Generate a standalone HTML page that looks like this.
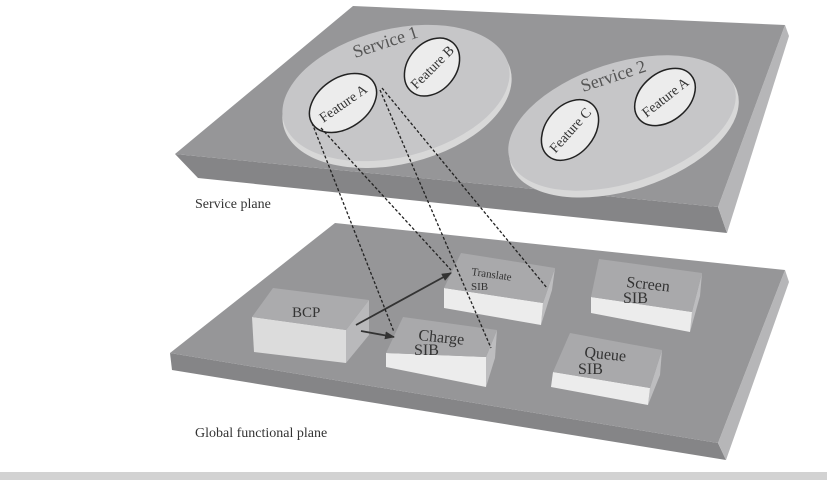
<!DOCTYPE html>
<html><head><meta charset="utf-8"><style>html,body{margin:0;padding:0;background:#fff}svg{display:block}</style></head>
<body>
<svg width="827" height="482" viewBox="0 0 827 482" xmlns="http://www.w3.org/2000/svg" font-family="Liberation Serif, serif">
<rect x="0" y="472" width="827" height="8" fill="#d2d2d2"/>
<!-- TOP PLANE -->
<polygon points="175,154 718,207 727,233 198,178" fill="#858587"/>
<polygon points="785,25 789,36 727,233 718,207" fill="#b6b6b8"/>
<polygon points="353,6 785,25 718,207 175,154" fill="#969698"/>
<!-- service ellipses -->
<ellipse cx="397" cy="98" rx="117" ry="66" transform="rotate(-14 397 98)" fill="#d8d8d8"/>
<ellipse cx="396" cy="93" rx="116" ry="64" transform="rotate(-14 396 93)" fill="#c6c6c8"/>
<ellipse cx="624" cy="128" rx="119" ry="62" transform="rotate(-18 624 128)" fill="#d8d8d8"/>
<ellipse cx="622" cy="123" rx="118" ry="60" transform="rotate(-18 622 123)" fill="#c6c6c8"/>
<text x="355" y="58" font-size="18" fill="#555" transform="rotate(-18 355 58)">Service 1</text>
<text x="583" y="92" font-size="18" fill="#555" transform="rotate(-18 583 92)">Service 2</text>
<!-- features -->
<ellipse cx="343" cy="103" rx="37" ry="25" transform="rotate(-35 343 103)" fill="#ececec" stroke="#222" stroke-width="1.5"/>
<ellipse cx="432" cy="67" rx="32" ry="24" transform="rotate(-50 432 67)" fill="#ececec" stroke="#222" stroke-width="1.5"/>
<ellipse cx="570" cy="130" rx="34" ry="24" transform="rotate(-50 570 130)" fill="#ececec" stroke="#222" stroke-width="1.5"/>
<ellipse cx="665" cy="97" rx="34" ry="24" transform="rotate(-40 665 97)" fill="#ececec" stroke="#222" stroke-width="1.5"/>
<text x="343" y="108" font-size="14" fill="#333" text-anchor="middle" transform="rotate(-35 343 103)">Feature A</text>
<text x="432" y="72" font-size="14" fill="#333" text-anchor="middle" transform="rotate(-45 432 67)">Feature B</text>
<text x="570" y="135" font-size="14" fill="#333" text-anchor="middle" transform="rotate(-48 570 130)">Feature C</text>
<text x="665" y="102" font-size="14" fill="#333" text-anchor="middle" transform="rotate(-38 665 97)">Feature A</text>
<text x="195" y="208" font-size="14" fill="#333">Service plane</text>
<!-- BOTTOM PLANE -->
<polygon points="170,353 718,443 726,460 172,370" fill="#858587"/>
<polygon points="785,270 789,282 726,460 718,443" fill="#b6b6b8"/>
<polygon points="335,223 785,270 718,443 170,353" fill="#969698"/>
<!-- boxes -->
<g stroke="none">
<polygon points="346,330 369,300 369,335 346,363" fill="#b9b9bb"/>
<polygon points="252,317 346,330 346,363 254,352" fill="#dcdcdc"/>
<polygon points="273,288 369,300 346,330 252,317" fill="#ababad"/>
<polygon points="543,303 555,268 552,290 541,325" fill="#bdbdbf"/>
<polygon points="444,288 543,303 541,325 444,308" fill="#ececec"/>
<polygon points="461,253 555,268 543,303 444,288" fill="#a9a9ab"/>
<polygon points="692,312 702,273 700,296 690,332" fill="#bdbdbf"/>
<polygon points="591,297 692,312 690,332 591,313" fill="#ececec"/>
<polygon points="599,259 702,273 692,312 591,297" fill="#a9a9ab"/>
<polygon points="486,357 497,330 495,358 486,387" fill="#bdbdbf"/>
<polygon points="386,353 486,357 486,387 386,367" fill="#ececec"/>
<polygon points="403,317 497,330 486,357 386,353" fill="#a9a9ab"/>
<polygon points="650,388 662,350 660,375 648,405" fill="#bdbdbf"/>
<polygon points="553,372 650,388 648,405 551,387" fill="#ececec"/>
<polygon points="570,333 662,350 650,388 553,372" fill="#a9a9ab"/>
</g>
<text x="292" y="317" font-size="15" fill="#333">BCP</text>
<text x="471" y="275" font-size="11" fill="#333" transform="rotate(8 471 275)">Translate</text>
<text x="471" y="290" font-size="11" fill="#333">SIB</text>
<text x="626" y="287" font-size="16" fill="#333" transform="rotate(6 626 287)">Screen</text>
<text x="623" y="303" font-size="16" fill="#333">SIB</text>
<text x="418" y="340" font-size="16" fill="#333" transform="rotate(6 418 340)">Charge</text>
<text x="414" y="355" font-size="16" fill="#333">SIB</text>
<text x="584" y="357" font-size="16" fill="#333" transform="rotate(6 584 357)">Queue</text>
<text x="578" y="374" font-size="16" fill="#333">SIB</text>
<text x="195" y="437" font-size="14" fill="#333">Global functional plane</text>
<defs><marker id="ah" markerWidth="10" markerHeight="8" refX="9" refY="4" orient="auto" markerUnits="userSpaceOnUse"><polygon points="0,0 10,4 0,8" fill="#333"/></marker></defs>
<line x1="356" y1="325" x2="451" y2="273" stroke="#333" stroke-width="1.8" marker-end="url(#ah)"/>
<line x1="361" y1="331" x2="394" y2="337" stroke="#333" stroke-width="1.8" marker-end="url(#ah)"/>
<g stroke="#222" stroke-width="1.3" stroke-dasharray="3,2" fill="none">
<line x1="312" y1="123" x2="394" y2="332"/>
<line x1="321" y1="128" x2="451" y2="270"/>
<line x1="380" y1="90" x2="491" y2="348"/>
<line x1="382" y1="88" x2="547" y2="288"/>
</g>
</svg>
</body></html>
